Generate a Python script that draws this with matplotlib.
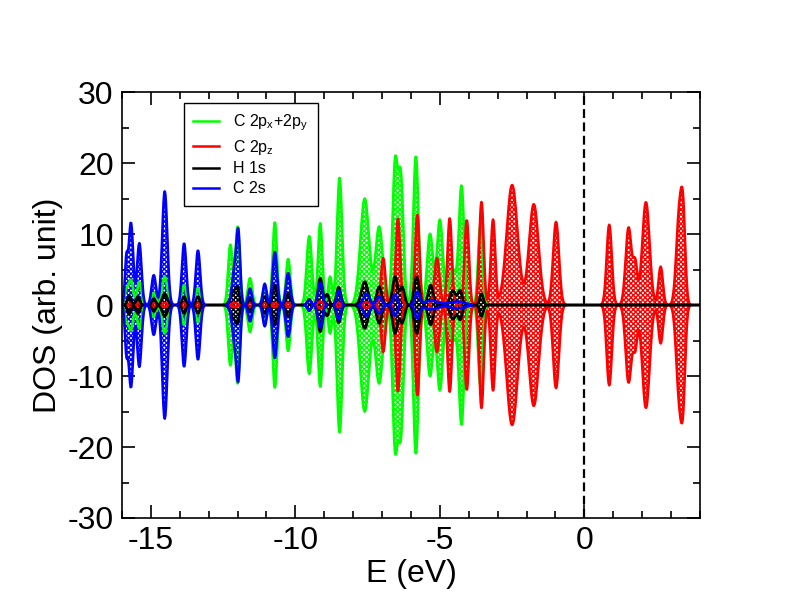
import numpy as np
import matplotlib
matplotlib.use('Agg')
import matplotlib.pyplot as plt
from matplotlib.lines import Line2D

plt.rcParams['font.family'] = ['Liberation Sans', 'DejaVu Sans']
plt.rcParams['mathtext.fontset'] = 'custom'
plt.rcParams['mathtext.rm'] = 'Liberation Sans'
plt.rcParams['mathtext.it'] = 'Liberation Sans'
plt.rcParams['axes.unicode_minus'] = False
plt.rcParams['hatch.linewidth'] = 1.0

# ---- data: peak centres (eV), heights (arb. unit) and broadenings (eV) ----
labels = [r'C 2p$_\mathregular{x}$+2p$_\mathregular{y}$', r'C 2p$_\mathregular{z}$', 'H 1s', 'C 2s']
colors = ['#00ff00', '#ff0000', '#000000', '#0000ff']

pxy_centres = [-15.85, -15.69, -15.4, -14.9, -14.52, -13.85, -13.37, -12.25, -12.0, -11.57, -11.06,
               -10.71, -10.25, -9.52, -9.14, -8.8, -8.47, -7.6, -7.1, -6.55, -6.35, -5.83, -5.34,
               -5.0, -4.55, -4.25, -3.6]
pxy_heights = [2.0, 3.5, 3.3, 1.7, 4.0, 2.8, 2.4, 8.5, 11.0, 3.8, 2.5,
               11.7, 6.5, 9.7, 11.5, 4.0, 18.0, 15.0, 11.0, 19.5, 17.5, 21.0, 10.0,
               12.0, 5.0, 16.6, 11.3]
pxy_widths = [0.05, 0.06, 0.06, 0.06, 0.07, 0.06, 0.06, 0.06, 0.06, 0.06, 0.06,
              0.06, 0.06, 0.07, 0.06, 0.05, 0.07, 0.12, 0.10, 0.07, 0.07, 0.07, 0.08,
              0.08, 0.10, 0.07, 0.06]

pz_centres = [-15.7, -15.4, -14.9, -14.52, -13.85, -13.37, -12.1, -11.57, -11.06, -10.71, -10.25,
              -9.14, -8.5, -7.54, -6.96, -6.45, -5.78, -5.1, -4.66, -4.07, -3.56, -3.16, -2.5,
              -1.75, -0.98, 0.86, 1.53, 1.76, 2.13, 2.64, 3.28, 3.42]
pz_heights = [0.3, 0.3, 0.3, 0.3, 0.3, 0.3, 0.3, 0.3, 0.3, 0.3, 0.3,
              0.5, 0.3, 0.4, 6.6, 12.2, 12.7, 6.6, 12.2, 12.0, 14.5, 12.0, 16.9,
              14.2, 11.7, 11.3, 10.9, 5.6, 14.5, 5.4, 12.4, 10.5]
pz_widths = [0.05, 0.05, 0.05, 0.06, 0.05, 0.05, 0.08, 0.05, 0.05, 0.05, 0.05,
             0.06, 0.05, 0.08, 0.06, 0.06, 0.06, 0.07, 0.06, 0.06, 0.06, 0.06, 0.15,
             0.13, 0.08, 0.07, 0.08, 0.06, 0.10, 0.06, 0.08, 0.06]

h1s_centres = [-15.75, -15.45, -14.9, -14.52, -13.85, -13.37, -12.15, -12.0, -11.57, -11.06, -10.71,
               -10.25, -9.52, -9.14, -8.9, -8.5, -7.6, -7.1, -6.55, -6.3, -5.8, -5.32, -4.55,
               -4.3, -3.56]
h1s_heights = [1.3, 1.2, 0.9, 1.6, 1.2, 1.2, 1.8, 2.0, 0.9, 1.2, 2.8,
               1.7, 0.8, 3.8, 1.5, 2.5, 3.3, 2.6, 4.0, 2.5, 4.0, 2.8, 2.0,
               2.0, 1.6]
h1s_widths = [0.05, 0.05, 0.05, 0.07, 0.05, 0.05, 0.08, 0.05, 0.05, 0.05, 0.06,
              0.06, 0.05, 0.06, 0.05, 0.06, 0.09, 0.07, 0.07, 0.06, 0.07, 0.07, 0.08,
              0.06, 0.05]

s2_centres = [-15.85, -15.69, -15.4, -14.9, -14.52, -13.85, -13.37, -12.1, -11.97, -11.57, -11.06,
              -10.71, -10.25, -9.52, -9.14, -8.5, -7.54, -7.1, -6.55, -5.78, -5.3, -4.4]
s2_heights = [6.0, 11.6, 8.7, 4.2, 16.0, 8.7, 7.7, 5.0, 9.0, 2.3, 3.0,
              7.5, 4.5, 0.7, 3.2, 2.1, 1.6, 1.2, 1.5, 1.8, 0.6, 0.5]
s2_widths = [0.04, 0.06, 0.06, 0.06, 0.07, 0.06, 0.06, 0.07, 0.05, 0.05, 0.05,
             0.06, 0.06, 0.05, 0.06, 0.05, 0.08, 0.07, 0.06, 0.06, 0.20, 0.20]

series = [(pxy_centres, pxy_heights, pxy_widths),
          (pz_centres, pz_heights, pz_widths),
          (h1s_centres, h1s_heights, h1s_widths),
          (s2_centres, s2_heights, s2_widths)]

x_ticks = [-15, -10, -5, 0]
y_ticks = [-30, -20, -10, 0, 10, 20, 30]

energy = np.linspace(-16.0, 4.0, 1001)


def broadened(centres, heights, widths):
    env = np.zeros_like(energy)
    for c, h, w in zip(centres, heights, widths):
        w = 1.25 * w
        env += h * np.exp(-0.5 * ((energy - c) / w) ** 2)
    return env


fig = plt.figure(figsize=(7.92, 6.12), dpi=100)
ax = fig.add_axes([0.154, 0.1536, 0.7298, 0.696])

envs = []
for (c, h, w), col in zip(series, colors):
    env = broadened(c, h, w)
    if col != '#000000':
        env = np.where(env < 0.05, np.nan, env)
    envs.append(env)

# spin-up (+) / spin-down (-) textured areas: green, red, blue, black
for idx, z in zip([0, 1, 3, 2], [2, 3, 4, 5]):
    e = np.nan_to_num(envs[idx])
    ax.fill_between(energy, -e, e, where=e > 0.05, facecolor='none', edgecolor=colors[idx],
                    hatch='xxxxxxx', linewidth=0, zorder=z)
# envelopes on top in set order
for idx, z in zip([0, 1, 2, 3], [6, 7, 8, 9]):
    ax.plot(energy, envs[idx], color=colors[idx], lw=1.9, zorder=z)
    ax.plot(energy, -envs[idx], color=colors[idx], lw=1.9, zorder=z)

ax.axvline(0, color='black', lw=1.6, dashes=(4, 2), zorder=10)

ax.set_xlim(-16, 4)
ax.set_ylim(-30, 30)
ax.set_xticks(x_ticks)
ax.set_xticklabels([str(t) for t in x_ticks])
ax.set_yticks(y_ticks)
ax.set_yticklabels([str(t) for t in y_ticks])
ax.set_xticks(np.arange(-16, 5, 1), minor=True)
ax.set_yticks(np.arange(-30, 31, 5), minor=True)
ax.tick_params(which='both', direction='in', top=True, right=True, width=1.2, labelsize=23, pad=6)
ax.tick_params(which='major', length=9.5)
ax.tick_params(which='minor', length=4.7)
for sp in ax.spines.values():
    sp.set_linewidth(1.2)
    sp.set_zorder(12)

ax.set_xlabel('E (eV)', fontsize=23, labelpad=2)
ax.set_ylabel('DOS (arb. unit)', fontsize=23, labelpad=3)

handles = [Line2D([], [], color=col, lw=1.8) for col in colors]
leg = ax.legend(handles, labels, loc='upper left', bbox_to_anchor=(0.107, 0.975),
                fontsize=11.5, frameon=True, fancybox=False, edgecolor='black',
                framealpha=1, handlelength=1.6, handletextpad=0.9, labelspacing=0.3,
                borderpad=0.6, borderaxespad=0)
leg.get_frame().set_linewidth(1.0)
leg.set_zorder(20)

fig.savefig('out.png', dpi=100)
